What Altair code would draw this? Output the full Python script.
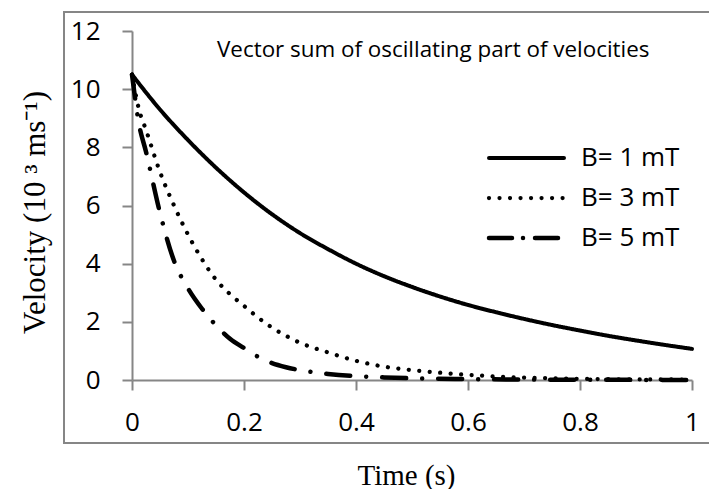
import altair as alt
import pandas as pd

# ---- data ----
series_names = ["B= 1 mT", "B= 3 mT", "B= 5 mT"]

t_b1 = [0, 0.05, 0.1, 0.15, 0.2, 0.25, 0.3, 0.35, 0.4, 0.45, 0.5,
        0.55, 0.6, 0.65, 0.7, 0.75, 0.8, 0.85, 0.9, 0.95, 1.0]
v_b1 = [10.5, 9.3, 8.25, 7.3, 6.45, 5.7, 5.05, 4.5, 4.0, 3.57, 3.2,
        2.87, 2.58, 2.33, 2.1, 1.89, 1.7, 1.52, 1.36, 1.21, 1.07]

t_b3 = [0, 0.0125, 0.025, 0.05, 0.075, 0.1, 0.125, 0.15, 0.175, 0.2, 0.225,
        0.25, 0.275, 0.3, 0.35, 0.4, 0.45, 0.5, 0.55, 0.6, 0.65, 0.7,
        0.75, 0.8, 0.85, 0.9, 0.95, 1.0]
v_b3 = [10.5, 9.3, 8.6, 7.15, 6.0, 5.0, 4.15, 3.45, 2.95, 2.55, 2.15,
        1.8, 1.52, 1.28, 0.95, 0.66, 0.46, 0.34, 0.25, 0.18, 0.12, 0.08,
        0.06, 0.04, 0.03, 0.02, 0.02, 0.01]

t_b5 = [0, 0.0125, 0.025, 0.05, 0.075, 0.1, 0.125, 0.15, 0.175, 0.2, 0.225,
        0.25, 0.275, 0.3, 0.35, 0.4, 0.45, 0.5, 0.6, 0.7, 0.8, 0.9, 1.0]
v_b5 = [10.5, 8.8, 7.85, 5.75, 4.1, 3.15, 2.45, 1.88, 1.42, 1.1, 0.8,
        0.58, 0.44, 0.34, 0.21, 0.13, 0.09, 0.06, 0.03, 0.015, 0.008, 0.004, 0.002]

x_ticks = [0, 0.2, 0.4, 0.6, 0.8, 1]
y_ticks = [0, 2, 4, 6, 8, 10, 12]
title_text = "Vector sum of oscillating part of velocities"
x_title = "Time (s)"
y_title = "Velocity (10 \u00b3 ms\u207b\u00b9)"

rows = []
for name, ts, vs in zip(series_names, [t_b1, t_b3, t_b5], [v_b1, v_b3, v_b5]):
    for t, v in zip(ts, vs):
        rows.append({"series": name, "t": t, "v": v})
df = pd.DataFrame(rows)
legend_df = pd.DataFrame({"series": series_names})

W, H = 560, 349
GRAY = "#868686"
SANS = "Open Sans"
SERIF = "Liberation Serif"

widths = [4, 4.5, 3]
plot_dashes = [[1, 0], [0.01, 10.5], [24, 16, 0.01, 16]]
legend_dashes = [[1, 0], [0.01, 10.5], [23, 11, 0.01, 12]]

lines = alt.Chart(df).mark_line(
    color="black", strokeCap="round", strokeJoin="round", interpolate="monotone"
).encode(
    x=alt.X("t:Q", scale=alt.Scale(domain=[0, 1], nice=False),
            axis=alt.Axis(values=x_ticks, format="~g", title=x_title,
                          labelPadding=19, titleX=274, titleY=104,
                          titleFontSize=29,
                          titleBaseline="alphabetic", titleAlign="center")),
    y=alt.Y("v:Q", scale=alt.Scale(domain=[0, 12], nice=False),
            axis=alt.Axis(values=y_ticks, title=y_title, labelPadding=22,
                          titleX=-88, titleY=181, titleAngle=270,
                          titleFontSize=31,
                          titleBaseline="alphabetic", titleAlign="center")),
    strokeDash=alt.StrokeDash("series:N",
                              scale=alt.Scale(domain=series_names, range=plot_dashes),
                              legend=None),
    strokeWidth=alt.StrokeWidth("series:N",
                                scale=alt.Scale(domain=series_names, range=widths),
                                legend=None),
    order=alt.Order("t:Q"),
)

legend_y = alt.Y("series:N",
                 scale=alt.Scale(type="point", domain=series_names, range=[127, 207], padding=0),
                 axis=None)

legend_lines = alt.Chart(legend_df).mark_rule(
    color="black", strokeCap="round"
).encode(
    x=alt.value(357), x2=alt.value(432),
    y=legend_y,
    strokeDash=alt.StrokeDash("series:N",
                              scale=alt.Scale(domain=series_names, range=legend_dashes),
                              legend=None),
    strokeWidth=alt.StrokeWidth("series:N",
                                scale=alt.Scale(domain=series_names, range=widths),
                                legend=None),
)

legend_text = alt.Chart(legend_df).mark_text(
    font=SANS, fontSize=26, color="black", align="left", baseline="middle"
).encode(
    x=alt.value(449), y=legend_y, text="series:N"
)

box = alt.Chart(pd.DataFrame({"k": [0]})).mark_rect(
    fill=None, stroke=GRAY, strokeWidth=2
).encode(
    x=alt.value(-68), x2=alt.value(600), y=alt.value(-19), y2=alt.value(412)
)

title_mark = alt.Chart(pd.DataFrame({"label": [title_text]})).mark_text(
    font=SANS, fontSize=22.4, color="black", align="left", baseline="alphabetic"
).encode(
    x=alt.value(85), y=alt.value(26), text="label:N"
)

chart = alt.layer(box, lines, legend_lines, legend_text, title_mark).resolve_scale(
    y="independent", strokeDash="independent", strokeWidth="independent"
).properties(
    width=W, height=H,
    autosize=alt.AutoSizeParams(type="none"),
    padding={"left": 132, "top": 31, "right": 17, "bottom": 109},
).configure_view(stroke=None).configure_axis(
    domainColor=GRAY, domainWidth=2, tickColor=GRAY, tickWidth=2, tickSize=10,
    labelFont=SANS, labelFontSize=26, labelColor="black", grid=False,
    titleFont=SERIF, titleFontSize=28, titleFontWeight="normal", titleColor="black",
    labelOverlap=False, labelFlush=False,
)

chart.save("out.html", embed_options={"renderer": "svg", "actions": False})
